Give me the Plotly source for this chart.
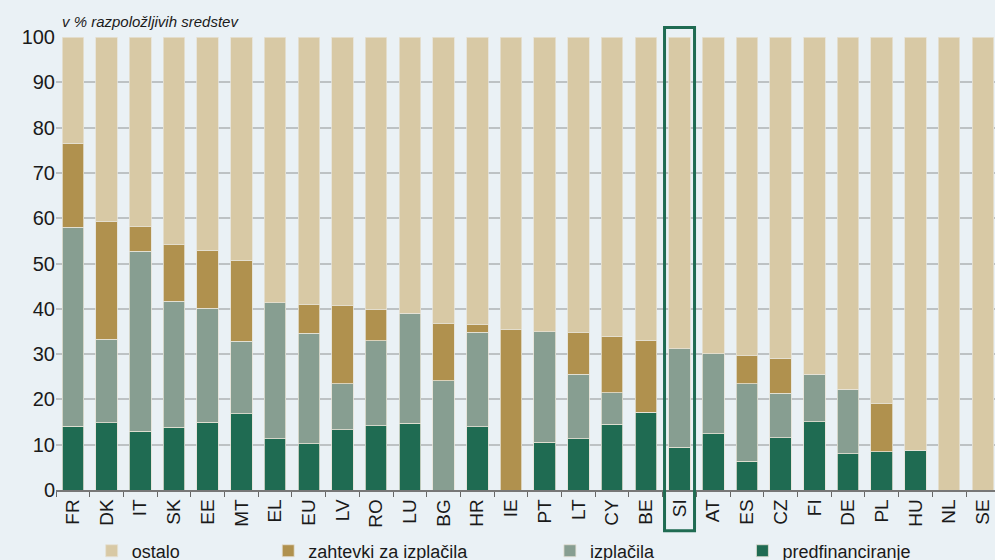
import plotly.graph_objects as go

# države (vrstni red kot na sliki)
drzave = ['FR', 'DK', 'IT', 'SK', 'EE', 'MT', 'EL', 'EU', 'LV', 'RO', 'LU', 'BG', 'HR', 'IE',
          'PT', 'LT', 'CY', 'BE', 'SI', 'AT', 'ES', 'CZ', 'FI', 'DE', 'PL', 'HU', 'NL', 'SE']

predfinanciranje = [14.1, 14.8, 13.0, 13.9, 15.0, 16.8, 11.3, 10.2, 13.3, 14.2, 14.7, 0.0, 14.0, 0.0,
                    10.5, 11.3, 14.5, 17.2, 9.4, 12.4, 6.3, 11.5, 15.1, 8.0, 8.4, 8.8, 0.0, 0.0]
izplacila = [43.9, 18.5, 39.7, 27.8, 25.1, 16.0, 30.0, 24.4, 10.2, 18.7, 24.3, 24.1, 20.8, 0.0,
             24.4, 14.2, 7.0, 0.0, 21.8, 17.7, 17.2, 9.9, 10.4, 14.2, 0.0, 0.0, 0.0, 0.0]
zahtevki = [18.6, 26.0, 5.4, 12.4, 12.8, 17.9, 0.0, 6.3, 17.2, 6.9, 0.0, 12.6, 1.7, 35.4,
            0.0, 9.2, 12.4, 15.9, 0.0, 0.0, 6.1, 7.7, 0.0, 0.0, 10.6, 0.0, 0.0, 0.0]
ostalo = [23.4, 40.7, 41.9, 45.9, 47.1, 49.3, 58.7, 59.1, 59.3, 60.2, 61.0, 63.3, 63.5, 64.6,
          65.1, 65.3, 66.1, 66.9, 68.8, 69.9, 70.4, 70.9, 74.5, 77.8, 81.0, 91.2, 100.0, 100.0]

BG = '#EAF1F5'
FONT = 'Liberation Sans, Arial, sans-serif'
edge = dict(color='#E6E2D6', width=0.8)

fig = go.Figure()
fig.add_trace(go.Bar(x=drzave, y=predfinanciranje, name='predfinanciranje',
                     marker_color='#1F6B52', marker_line=edge, legend='legend4'))
fig.add_trace(go.Bar(x=drzave, y=izplacila, name='izplačila',
                     marker_color='#879E91', marker_line=edge, legend='legend3'))
fig.add_trace(go.Bar(x=drzave, y=zahtevki, name='zahtevki za izplačila',
                     marker_color='#B0914E', marker_line=edge, legend='legend2'))
fig.add_trace(go.Bar(x=drzave, y=ostalo, name='ostalo',
                     marker_color='#D8C9A5', marker_line=edge, legend='legend'))

# legende pod grafom (vsaka posebej, kot na sliki)
leg = dict(orientation='h', yref='container', yanchor='middle', y=0.016, xanchor='left',
           bgcolor='rgba(0,0,0,0)', font=dict(size=18, color='#1a1a1a', family=FONT))

fig.update_layout(
    width=995, height=560,
    margin=dict(l=56, r=0, t=37, b=70),
    paper_bgcolor=BG, plot_bgcolor=BG,
    barmode='stack', bargap=0.36,
    showlegend=True,
    font=dict(family=FONT, size=17, color='#1a1a1a'),
    legend=dict(leg, x=0.038),
    legend2=dict(leg, x=0.226),
    legend3=dict(leg, x=0.526),
    legend4=dict(leg, x=0.731),
    xaxis=dict(range=[-0.5, 27.36], tickangle=-90, ticks='outside', tickson='boundaries',
               ticklen=5, tickcolor='#666666', showline=True, linecolor='#777777',
               linewidth=1.5, showgrid=False, tickfont=dict(size=19), automargin=False),
    yaxis=dict(range=[0, 100], dtick=10, showgrid=True, gridcolor='#BDC2C4', gridwidth=1.5,
               zeroline=False, ticks='', tickfont=dict(size=20), automargin=False),
)

fig.add_annotation(text='<i>v % razpoložljivih sredstev</i>', xref='paper', yref='paper',
                   x=0.004, y=1.034, xanchor='left', yanchor='middle', showarrow=False,
                   font=dict(size=15, color='#1a1a1a'))

# okvir okrog SI
fig.add_shape(type='rect', xref='x', yref='paper', x0=17.555, x1=18.445, y0=-0.09, y1=1.021,
              line=dict(color='#1F6B52', width=3), fillcolor='rgba(0,0,0,0)', layer='above')

fig.write_html('out.html', config={'displayModeBar': False},
               post_script="document.body.style.margin='0';")
